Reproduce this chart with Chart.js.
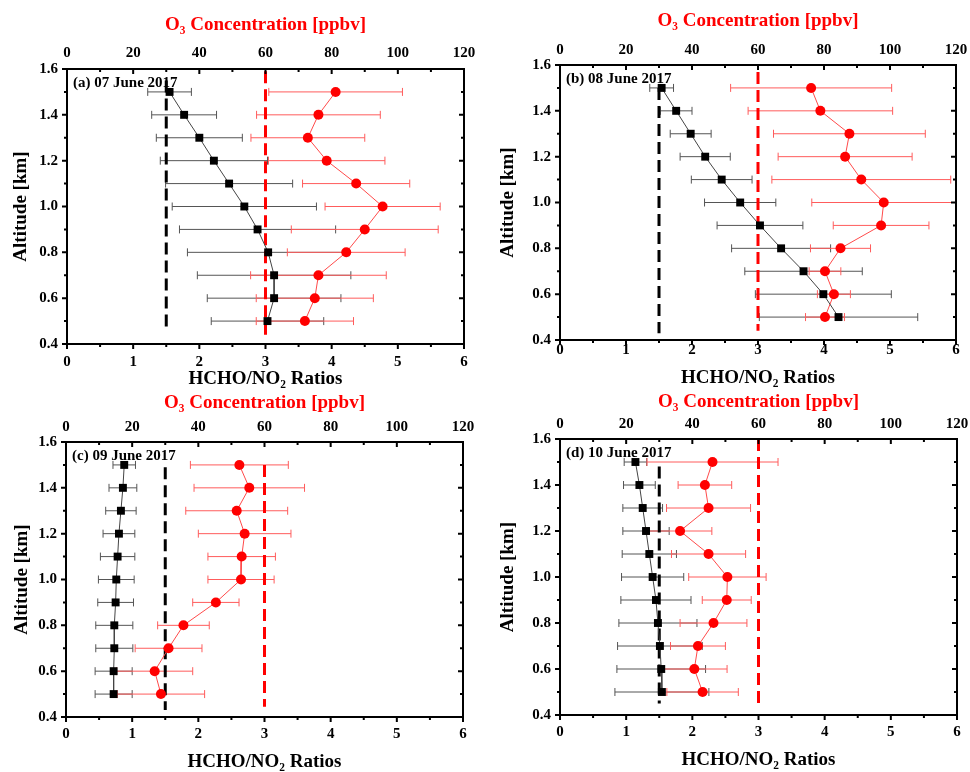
<!DOCTYPE html>
<html>
<head>
  <title>HCHO/NO2 Ratios and O3 Profiles</title>
  <script src="https://cdn.jsdelivr.net/npm/chart.js"></script>
  <style>
    body { margin: 0; background: #fff; }
    #wrap { position: relative; width: 970px; height: 772px; overflow: hidden; background: #fff; }
    .panel { position: absolute; }
  </style>
</head>
<body>
  <div id="wrap"></div>
  <script>
    // altitude levels [km], top to bottom
    const altitudes = [1.5, 1.4, 1.3, 1.2, 1.1, 1.0, 0.9, 0.8, 0.7, 0.6, 0.5];
    const ratioTicks = [0, 1, 2, 3, 4, 5, 6];
    const o3Ticks = [0, 20, 40, 60, 80, 100, 120];
    const altitudeTicks = [0.4, 0.6, 0.8, 1.0, 1.2, 1.4, 1.6];

    const panelLabels = ['(a) 07 June 2017', '(b) 08 June 2017', '(c) 09 June 2017', '(d) 10 June 2017'];

    // HCHO/NO2 ratios and their errors
    const ratioA = [1.55, 1.77, 2.00, 2.22, 2.45, 2.68, 2.88, 3.04, 3.13, 3.13, 3.03];
    const ratioErrA = [0.33, 0.49, 0.65, 0.81, 0.96, 1.09, 1.18, 1.22, 1.16, 1.01, 0.85];
    const ratioB = [1.54, 1.76, 1.98, 2.20, 2.45, 2.73, 3.03, 3.35, 3.69, 3.99, 4.22];
    const ratioErrB = [0.18, 0.24, 0.31, 0.38, 0.46, 0.54, 0.65, 0.75, 0.89, 1.03, 1.20];
    const ratioC = [0.88, 0.86, 0.83, 0.80, 0.78, 0.76, 0.75, 0.73, 0.73, 0.72, 0.72];
    const ratioErrC = [0.17, 0.21, 0.23, 0.24, 0.26, 0.27, 0.27, 0.28, 0.28, 0.28, 0.28];
    const ratioD = [1.14, 1.20, 1.25, 1.30, 1.35, 1.40, 1.45, 1.48, 1.51, 1.53, 1.54];
    const ratioErrD = [0.17, 0.24, 0.30, 0.35, 0.41, 0.47, 0.53, 0.59, 0.64, 0.67, 0.71];

    // O3 concentration [ppbv] and errors
    const o3A = [81.2, 76.0, 72.8, 78.5, 87.4, 95.4, 90.0, 84.4, 76.0, 74.9, 71.9];
    const o3ErrA = [20.2, 18.7, 17.2, 17.6, 16.2, 17.4, 22.2, 17.8, 20.5, 17.7, 14.7];
    const o3B = [76.1, 78.9, 87.7, 86.4, 91.3, 98.1, 97.3, 85.0, 80.3, 83.0, 80.3];
    const o3ErrB = [24.4, 21.9, 23.0, 20.3, 27.1, 21.8, 14.5, 9.1, 4.8, 5.0, 5.9];
    const o3C = [52.4, 55.4, 51.6, 54.0, 53.1, 52.9, 45.3, 35.5, 31.0, 26.8, 28.7];
    const o3ErrC = [14.8, 16.7, 15.4, 14.0, 10.2, 10.0, 7.0, 7.8, 10.1, 11.5, 13.2];
    const o3D = [46.1, 43.8, 44.9, 36.3, 44.9, 50.6, 50.4, 46.4, 41.7, 40.6, 43.1];
    const o3ErrD = [19.8, 8.1, 12.7, 9.6, 11.2, 11.7, 7.4, 10.1, 8.3, 9.9, 10.8];

    // threshold lines: ratio 1.5 and O3 60 ppbv, with their altitude extents
    const ratioThreshold = 1.5;
    const o3Threshold = 60;
    const ratioLineExtent = [[1.55, 0.45], [1.50, 0.43], [1.49, 0.43], [1.48, 0.45]];
    const o3LineExtent = [[1.59, 0.44], [1.57, 0.44], [1.50, 0.445], [1.60, 0.45]];

    const ratioSeries = [ratioA, ratioB, ratioC, ratioD];
    const ratioErrSeries = [ratioErrA, ratioErrB, ratioErrC, ratioErrD];
    const o3Series = [o3A, o3B, o3C, o3D];
    const o3ErrSeries = [o3ErrA, o3ErrB, o3ErrC, o3ErrD];

    // panel placement (plot area in page pixels) and axis box sizes
    const panelBoxes = [
      { left: 67, top: 69, w: 397, h: 275, topH: 55, bottomH: 46, leftW: 57, bPad: 9, tPad: 7 },
      { left: 560, top: 65, w: 396, h: 275, topH: 55, bottomH: 49, leftW: 63, bPad: 1, tPad: 6 },
      { left: 66, top: 442, w: 397, h: 275, topH: 50, bottomH: 56, leftW: 55, bPad: 8, tPad: 6 },
      { left: 560, top: 439, w: 397, h: 276, topH: 48, bottomH: 56, leftW: 63, bPad: 8, tPad: 6 }
    ];
    const padRight = 20;
    const FONT = "'Liberation Serif', 'Times New Roman', serif";

    const errorBars = {
      id: 'errorBars',
      beforeDatasetsDraw(chart) {
        const ctx = chart.ctx;
        const yScale = chart.scales.y;
        chart.data.datasets.forEach(ds => {
          if (!ds.errors) return;
          const xScale = chart.scales[ds.xAxisID];
          ctx.save();
          ctx.strokeStyle = ds.errorColor;
          ctx.lineWidth = 1;
          ds.data.forEach((p, i) => {
            const e = ds.errors[i];
            const x1 = xScale.getPixelForValue(p.x - e);
            const x2 = xScale.getPixelForValue(p.x + e);
            const py = yScale.getPixelForValue(p.y);
            ctx.beginPath();
            ctx.moveTo(x1, py); ctx.lineTo(x2, py);
            ctx.moveTo(x1, py - 4); ctx.lineTo(x1, py + 4);
            ctx.moveTo(x2, py - 4); ctx.lineTo(x2, py + 4);
            ctx.stroke();
          });
          ctx.restore();
        });
      }
    };

    const frameTicks = {
      id: 'frameTicks',
      afterDraw(chart, args, opts) {
        const ctx = chart.ctx;
        const { left, right, top, bottom } = chart.chartArea;
        const xs = chart.scales.x, x2 = chart.scales.x2, ys = chart.scales.y;
        ctx.save();
        ctx.strokeStyle = '#000';
        ctx.lineWidth = 2;
        ctx.strokeRect(left, top, right - left, bottom - top);
        ctx.beginPath();
        for (let v = 0; v <= 6.001; v += 0.5) {
          const px = xs.getPixelForValue(v);
          const len = Math.abs(v - Math.round(v)) < 1e-6 ? 5 : 3;
          ctx.moveTo(px, bottom); ctx.lineTo(px, bottom + len);
        }
        for (let v = 0; v <= 120.001; v += 10) {
          const px = x2.getPixelForValue(v);
          const len = v % 20 === 0 ? 5 : 3;
          ctx.moveTo(px, top); ctx.lineTo(px, top + len);
        }
        for (let k = 4; k <= 16; k++) {
          const py = ys.getPixelForValue(k / 10);
          const len = k % 2 === 0 ? 5 : 3;
          ctx.moveTo(left, py); ctx.lineTo(left - len, py);
          ctx.moveTo(right, py); ctx.lineTo(right - len, py);
        }
        ctx.stroke();
        ctx.fillStyle = '#000';
        ctx.font = "bold 15px " + FONT;
        ctx.textBaseline = 'middle';
        ctx.textAlign = 'left';
        ctx.fillText(opts.label, left + 6, top + 14);
        ctx.restore();
      }
    };

    function makePanel(i) {
      const box = panelBoxes[i];
      const div = document.createElement('div');
      div.className = 'panel';
      div.style.left = (box.left - box.leftW) + 'px';
      div.style.top = (box.top - box.topH) + 'px';
      div.style.width = (box.leftW + box.w + padRight) + 'px';
      div.style.height = (box.topH + box.h + box.bottomH) + 'px';
      const canvas = document.createElement('canvas');
      div.appendChild(canvas);
      document.getElementById('wrap').appendChild(div);

      const blackPts = altitudes.map((y, k) => ({ x: ratioSeries[i][k], y }));
      const redPts = altitudes.map((y, k) => ({ x: o3Series[i][k], y }));
      const tickFont = { family: FONT, size: 15, weight: 'bold' };
      const titleFont = { family: FONT, size: 19, weight: 'bold' };
      const noGrid = { display: false, drawTicks: false };

      new Chart(canvas, {
        type: 'scatter',
        data: {
          datasets: [
            {
              label: 'HCHO/NO2',
              data: blackPts,
              xAxisID: 'x',
              showLine: true,
              borderColor: '#444',
              borderWidth: 1,
              backgroundColor: '#000',
              pointStyle: 'rect',
              pointRadius: 5.6,
              pointBorderWidth: 0,
              errors: ratioErrSeries[i],
              errorColor: '#555',
              order: 1
            },
            {
              label: 'O3',
              data: redPts,
              xAxisID: 'x2',
              showLine: true,
              borderColor: '#ff4a4a',
              borderWidth: 1,
              backgroundColor: '#ff0000',
              pointStyle: 'circle',
              pointRadius: 5,
              pointBorderWidth: 0,
              errors: o3ErrSeries[i],
              errorColor: '#ff5c5c',
              order: 2
            },
            {
              label: 'ratio threshold',
              data: ratioLineExtent[i].map(y => ({ x: ratioThreshold, y })),
              xAxisID: 'x',
              showLine: true,
              borderColor: '#000',
              borderWidth: 3,
              borderDash: [12, 6],
              pointRadius: 0,
              order: 4
            },
            {
              label: 'O3 threshold',
              data: o3LineExtent[i].map(y => ({ x: o3Threshold, y })),
              xAxisID: 'x2',
              showLine: true,
              borderColor: '#ff0000',
              borderWidth: 3,
              borderDash: [12, 6],
              pointRadius: 0,
              order: 3
            }
          ]
        },
        options: {
          responsive: true,
          maintainAspectRatio: false,
          animation: false,
          layout: { padding: { left: 0, right: padRight, top: 0, bottom: 0 } },
          plugins: {
            legend: { display: false },
            tooltip: { enabled: false },
            frameTicks: { label: panelLabels[i] }
          },
          scales: {
            x: {
              type: 'linear',
              position: 'bottom',
              min: ratioTicks[0],
              max: ratioTicks[ratioTicks.length - 1],
              afterBuildTicks: s => { s.ticks = ratioTicks.map(v => ({ value: v })); },
              ticks: { font: tickFont, color: '#000', padding: box.bPad, maxRotation: 0 },
              grid: noGrid,
              border: { display: false },
              title: { display: true, text: 'HCHO/NO\u2082 Ratios', font: titleFont, color: '#000', padding: 0 },
              afterFit: s => { s.height = box.bottomH; }
            },
            x2: {
              type: 'linear',
              position: 'top',
              min: o3Ticks[0],
              max: o3Ticks[o3Ticks.length - 1],
              afterBuildTicks: s => { s.ticks = o3Ticks.map(v => ({ value: v })); },
              ticks: { font: tickFont, color: '#000', padding: box.tPad, maxRotation: 0 },
              grid: noGrid,
              border: { display: false },
              title: { display: true, text: 'O\u2083 Concentration [ppbv]', font: titleFont, color: '#ff0000', padding: 0 },
              afterFit: s => { s.height = box.topH; }
            },
            y: {
              type: 'linear',
              min: altitudeTicks[0],
              max: altitudeTicks[altitudeTicks.length - 1],
              afterBuildTicks: s => { s.ticks = altitudeTicks.map(v => ({ value: v })); },
              ticks: { font: tickFont, color: '#000', padding: 9, callback: v => v.toFixed(1) },
              grid: noGrid,
              border: { display: false },
              title: { display: true, text: 'Altitude [km]', font: titleFont, color: '#000', padding: 0 },
              afterFit: s => { s.width = box.leftW; }
            }
          }
        },
        plugins: [errorBars, frameTicks]
      });
    }

    for (let i = 0; i < 4; i++) makePanel(i);
  </script>
</body>
</html>
